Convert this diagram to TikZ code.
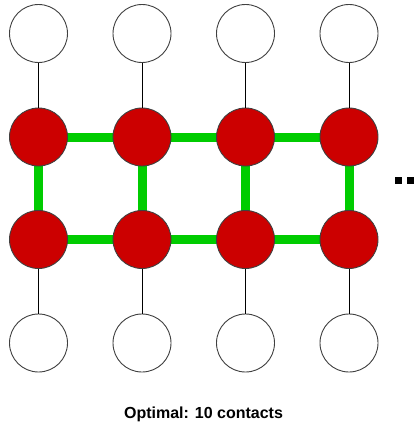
\documentclass[tikz,border=0pt]{standalone}
\usepackage{fontspec}
\setmainfont{Liberation Sans}
\usetikzlibrary{backgrounds}
\begin{document}
\begin{tikzpicture}[x=1pt,y=-1pt,
  free/.style={circle,draw=black!75,line width=0.9pt,fill=white,minimum size=58pt,inner sep=0pt},
  core/.style={circle,draw=black!75,line width=0.9pt,fill=hred,minimum size=58pt,inner sep=0pt},
  bond/.style={draw=black,line width=0.8pt},
  contact/.style={draw=hgreen,line width=9pt},
  dot/.style={fill=black,draw=none}]
\definecolor{hred}{RGB}{204,0,0}
\definecolor{hgreen}{RGB}{0,204,0}
\useasboundingbox (0,0) rectangle (419,428);

% chain residues: top and bottom rows are free, middle rows are the contact core
\foreach \i/\x in {1/38.5,2/142,3/245.5,4/349}{
  \node[free] (t\i) at (\x,33.5) {};
  \node[core] (a\i) at (\x,137) {};
  \node[core] (b\i) at (\x,239.5) {};
  \node[free] (u\i) at (\x,343) {};
}

% contacts between core residues, kept behind the circles
\begin{scope}[on background layer]
  \fill[white] (0,0) rectangle (419,428);
  \foreach \i/\j in {1/2,2/3,3/4}{
    \draw[contact] (a\i.center) -- (a\j.center);
    \draw[contact] (b\i.center) -- (b\j.center);
  }
  \foreach \i in {1,2,3,4}{
    \draw[contact] (a\i.center) -- (b\i.center);
  }
\end{scope}

% backbone bonds to the free residues
\foreach \i in {1,2,3,4}{
  \draw[bond] (t\i) -- (a\i);
  \draw[bond] (b\i) -- (u\i);
}

% continuation marks
\fill[dot] (395,177) rectangle (402,184);
\fill[dot] (407,177) rectangle (414,184);
\fill[dot] (419,177) rectangle (426,184);

\node[font=\bfseries\fontsize{16}{18}\selectfont] (cap) at (203.5,414) {Optimal: 10 contacts};
\end{tikzpicture}
\end{document}
